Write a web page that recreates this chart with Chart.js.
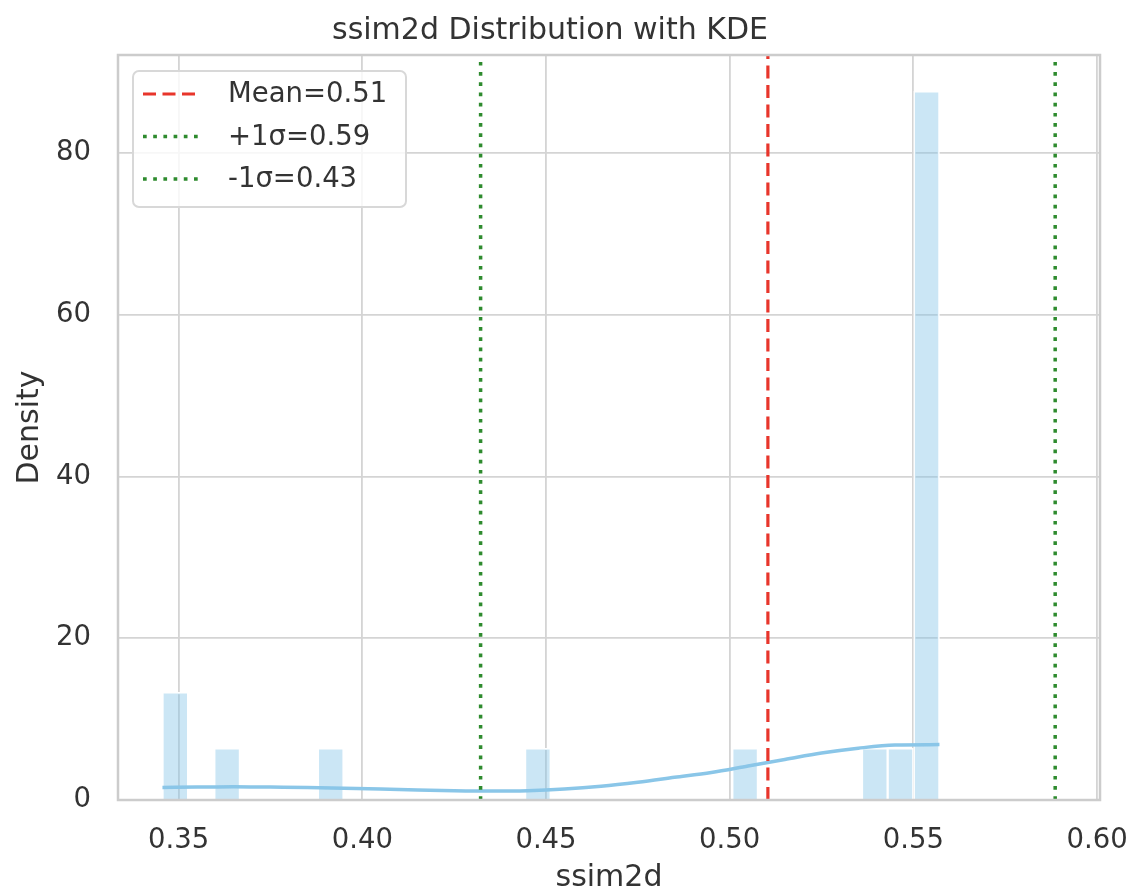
<!DOCTYPE html>
<html>
<head>
<meta charset="utf-8">
<script src="https://cdn.jsdelivr.net/npm/chart.js@4.4.1/dist/chart.umd.min.js"></script>
<style>
  html, body { margin: 0; padding: 0; background: #fff; }
  #wrap { width: 1133px; height: 895px; }
</style>
</head>
<body>
<div id="wrap"><canvas id="chart" width="1133" height="895"></canvas></div>
<script>
// histogram bins (centres) and their density heights
const binCenters = [0.3491, 0.3632, 0.3914, 0.4478, 0.5042, 0.5395, 0.5465, 0.5536]
const binDensity = [13.3, 6.4, 6.4, 6.4, 6.4, 6.4, 6.4, 87.6]

// KDE curve
const kdeX = [0.3456, 0.355, 0.365, 0.375, 0.385, 0.395, 0.405, 0.415, 0.425, 0.435, 0.445,
  0.455, 0.465, 0.475, 0.485, 0.495, 0.505, 0.515, 0.525, 0.535, 0.545, 0.5571]
const kdeY = [1.55, 1.6, 1.65, 1.6, 1.55, 1.45, 1.35, 1.25, 1.15, 1.1, 1.15,
  1.35, 1.7, 2.2, 2.8, 3.4, 4.2, 5.0, 5.8, 6.4, 6.8, 6.85]

const meanValue = 0.5104
const plusSigma = 0.5886
const minusSigma = 0.4322
const legendLabels = ['Mean=0.51', '+1σ=0.59', '-1σ=0.43']

const xTicks = [0.35, 0.40, 0.45, 0.50, 0.55, 0.60]
const yTicks = [0, 20, 40, 60, 80]
const xRange = [0.3335, 0.6008]
const yRange = [0, 92.1]

const FONT = 'DejaVu Sans'
const TEXT = '#333333'
const GRID = '#d4d4d4'

function vline(x) {
  return [{ x, y: yRange[0] }, { x, y: yRange[1] }]
}

const frameAndLegend = {
  id: 'frameAndLegend',
  afterDatasetsDraw(chart) {
    const { ctx, chartArea } = chart
    ctx.save()
    ctx.strokeStyle = '#cccccc'
    ctx.lineWidth = 2.5
    ctx.strokeRect(chartArea.left, chartArea.top, chartArea.right - chartArea.left, chartArea.bottom - chartArea.top)
    ctx.restore()
  },
  afterDraw(chart) {
    const { ctx, chartArea } = chart
    const left = chartArea.left + 15
    const top = chartArea.top + 16
    ctx.save()
    ctx.beginPath()
    ctx.roundRect(left, top, 273, 136, 6)
    ctx.fillStyle = 'rgba(255,255,255,0.8)'
    ctx.fill()
    ctx.strokeStyle = '#d8d8d8'
    ctx.lineWidth = 2
    ctx.stroke()

    const items = chart.data.datasets.filter(d => d.legendText)
    items.forEach((d, i) => {
      const y = top + 23 + i * 42.5
      ctx.beginPath()
      ctx.setLineDash(d.borderDash)
      ctx.strokeStyle = d.borderColor
      ctx.lineWidth = d.borderWidth
      ctx.moveTo(left + 10, y)
      ctx.lineTo(left + 68, y)
      ctx.stroke()
      ctx.setLineDash([])
      ctx.fillStyle = TEXT
      ctx.font = `27.5px "${FONT}"`
      ctx.textBaseline = 'middle'
      ctx.textAlign = 'left'
      ctx.fillText(d.legendText, left + 95, y + 1)
    })
    ctx.restore()
  }
}

const datasets = [
  {
    type: 'bar',
    data: binCenters.map((x, i) => ({ x, y: binDensity[i] })),
    backgroundColor: 'rgba(130, 195, 230, 0.42)',
    borderColor: '#ffffff',
    borderWidth: 1.5,
    categoryPercentage: 1,
    barPercentage: 1,
    order: 5
  },
  {
    type: 'line',
    data: kdeX.map((x, i) => ({ x, y: kdeY[i] })),
    borderColor: '#8ac6e8',
    borderWidth: 3.5,
    pointRadius: 0,
    cubicInterpolationMode: 'monotone',
    order: 4
  },
  {
    type: 'line',
    legendText: legendLabels[0],
    data: vline(meanValue),
    borderColor: '#e8352b',
    borderWidth: 3.2,
    borderDash: [13, 6.5],
    pointRadius: 0,
    order: 3
  },
  {
    type: 'line',
    legendText: legendLabels[1],
    data: vline(plusSigma),
    borderColor: '#2e8b2e',
    borderWidth: 3.5,
    borderDash: [3.7, 6.5],
    pointRadius: 0,
    order: 2
  },
  {
    type: 'line',
    legendText: legendLabels[2],
    data: vline(minusSigma),
    borderColor: '#2e8b2e',
    borderWidth: 3.5,
    borderDash: [3.7, 6.5],
    pointRadius: 0,
    order: 1
  }
]

new Chart(document.getElementById('chart'), {
  type: 'bar',
  data: { datasets },
  plugins: [frameAndLegend],
  options: {
    responsive: false,
    animation: false,
    devicePixelRatio: 1,
    layout: { padding: { left: 0, right: 33, top: 0, bottom: 0 } },
    plugins: {
      legend: { display: false },
      tooltip: { enabled: false },
      title: {
        display: true,
        text: 'ssim2d Distribution with KDE',
        color: TEXT,
        font: { family: FONT, size: 30, weight: 'normal' },
        padding: { top: 13, bottom: 6 }
      }
    },
    scales: {
      x: {
        type: 'linear',
        offset: false,
        min: xRange[0],
        max: xRange[1],
        afterBuildTicks: scale => { scale.ticks = xTicks.map(value => ({ value })) },
        afterFit: scale => {
          scale.height = 95
          scale.paddingLeft = 0
          scale.paddingRight = 0
        },
        ticks: {
          autoSkip: false,
          maxRotation: 0,
          padding: 24,
          color: TEXT,
          font: { family: FONT, size: 27.5 },
          callback: v => v.toFixed(2)
        },
        grid: { color: GRID, lineWidth: 1.8, drawTicks: false, offset: false },
        border: { display: false },
        title: {
          display: true,
          text: 'ssim2d',
          color: TEXT,
          font: { family: FONT, size: 30 },
          padding: { top: 0, bottom: -1 }
        }
      },
      y: {
        min: yRange[0],
        max: yRange[1],
        afterBuildTicks: scale => { scale.ticks = yTicks.map(value => ({ value })) },
        afterFit: scale => {
          scale.width = 118
          scale.paddingTop = 0
          scale.paddingBottom = 0
        },
        ticks: {
          padding: 27,
          color: TEXT,
          font: { family: FONT, size: 27.5 }
        },
        grid: { color: GRID, lineWidth: 1.8, drawTicks: false },
        border: { display: false },
        title: {
          display: true,
          text: 'Density',
          color: TEXT,
          font: { family: FONT, size: 30 },
          padding: { top: 12, bottom: 0 }
        }
      }
    }
  }
})
</script>
</body>
</html>
